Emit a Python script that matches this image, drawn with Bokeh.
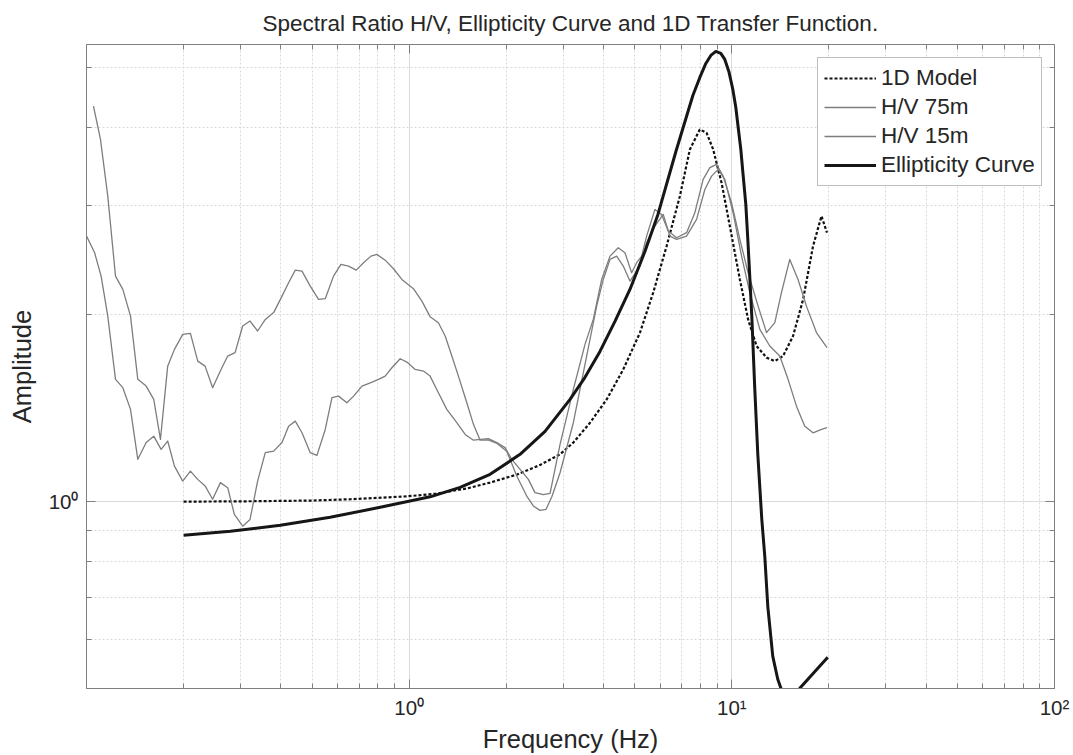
from bokeh.plotting import figure
from bokeh.models import Range1d, FixedTicker, LogAxis, Legend, LegendItem, CustomJSTickFormatter
from bokeh.embed import file_html
from bokeh.resources import INLINE

TITLE = "Spectral Ratio H/V, Ellipticity Curve and 1D Transfer Function."
FONT = "Liberation Sans"
TXT = "#262626"
AX = "#7f7f7f"

x_major = [1, 10, 100]
x_minor = [0.2, 0.3, 0.4, 0.5, 0.6, 0.7, 0.8, 0.9, 2, 3, 4, 5, 6, 7, 8, 9,
           20, 30, 40, 50, 60, 70, 80, 90]
y_major = [1]
y_minor = [0.6, 0.7, 0.8, 0.9, 2, 3, 4, 5]
x_labels = {1: "10⁰", 10: "10¹", 100: "10²"}
y_labels = {1: "10⁰"}

freq_hv75 = [0.1051, 0.1105, 0.1164, 0.1230, 0.1296, 0.1369, 0.1442, 0.1531, 0.1616, 0.1695,
             0.1785, 0.1873, 0.1987, 0.2099, 0.2212, 0.2331, 0.2460, 0.2612, 0.2739, 0.2887,
             0.3048, 0.3212, 0.3391, 0.3582, 0.3802, 0.4036, 0.4230, 0.4437, 0.4654, 0.4937,
             0.5238, 0.5494, 0.5829, 0.6144, 0.6487, 0.6853, 0.7222, 0.7613, 0.7943, 0.8427,
             0.8941, 0.9493, 1.031, 1.095, 1.161, 1.232, 1.293, 1.356, 1.421, 1.509,
             1.582, 1.659, 1.756, 1.873, 2.006, 2.155, 2.314, 2.426, 2.544, 2.656,
             2.772, 2.935, 3.227, 3.507, 3.811, 3.996, 4.192, 4.396, 4.608, 4.833,
             5.192, 5.445, 5.776, 6.129, 6.427, 6.742, 7.240, 7.775, 8.249, 8.653,
             9.071, 9.512, 10.09, 10.72, 11.37, 12.21, 13.11, 14.08, 14.94, 15.86,
             16.83, 17.85, 18.96, 19.72]
amp_hv75 = [4.335, 3.832, 3.105, 2.308, 2.197, 1.990, 1.574, 1.535, 1.461, 1.260,
            1.653, 1.759, 1.860, 1.867, 1.684, 1.653, 1.526, 1.633, 1.716, 1.738,
            1.918, 1.954, 1.883, 1.966, 2.016, 2.143, 2.252, 2.360, 2.351, 2.224,
            2.117, 2.123, 2.308, 2.411, 2.396, 2.360, 2.426, 2.486, 2.502, 2.449,
            2.372, 2.280, 2.203, 2.104, 1.986, 1.942, 1.848, 1.716, 1.593, 1.443,
            1.332, 1.256, 1.257, 1.241, 1.206, 1.100, 1.021, 0.984, 0.968, 0.972,
            1.020, 1.113, 1.340, 1.664, 2.065, 2.280, 2.456, 2.486, 2.396, 2.266,
            2.396, 2.613, 2.779, 2.902, 2.677, 2.645, 2.677, 2.849, 3.183, 3.345,
            3.429, 3.304, 2.920, 2.486, 2.171, 1.895, 1.781, 1.716, 1.574, 1.425,
            1.323, 1.291, 1.307, 1.316]

freq_hv15 = [0.1000, 0.1059, 0.1110, 0.1164, 0.1230, 0.1296, 0.1369, 0.1442, 0.1531, 0.1616,
             0.1703, 0.1785, 0.1873, 0.1987, 0.2099, 0.2212, 0.2331, 0.2460, 0.2600, 0.2739,
             0.2872, 0.3048, 0.3212, 0.3391, 0.3582, 0.3802, 0.4036, 0.4230, 0.4437, 0.4654,
             0.4937, 0.5178, 0.5494, 0.5764, 0.6040, 0.6413, 0.6726, 0.7141, 0.7576, 0.8035,
             0.8427, 0.8839, 0.9378, 0.9838, 1.044, 1.107, 1.161, 1.232, 1.308, 1.405,
             1.491, 1.582, 1.760, 1.869, 1.982, 2.080, 2.207, 2.341, 2.455, 2.605,
             2.733, 2.935, 3.227, 3.507, 3.720, 3.950, 4.192, 4.446, 4.663, 4.893,
             5.070, 5.254, 5.445, 5.776, 6.059, 6.351, 6.742, 7.240, 7.680, 8.149,
             8.550, 8.965, 9.400, 9.979, 10.59, 11.23, 12.06, 12.81, 13.59, 14.25,
             15.12, 16.04, 17.03, 18.29, 19.72]
amp_hv15 = [2.677, 2.520, 2.308, 1.990, 1.574, 1.526, 1.408, 1.170, 1.245, 1.275,
            1.214, 1.252, 1.141, 1.079, 1.120, 1.086, 1.060, 1.009, 1.073, 1.053,
            0.954, 0.913, 0.936, 1.079, 1.199, 1.206, 1.245, 1.323, 1.348, 1.291,
            1.199, 1.187, 1.307, 1.471, 1.479, 1.443, 1.479, 1.535, 1.554, 1.574,
            1.593, 1.643, 1.699, 1.678, 1.633, 1.623, 1.593, 1.498, 1.408, 1.340,
            1.283, 1.256, 1.263, 1.245, 1.222, 1.170, 1.127, 1.086, 1.034, 1.026,
            1.031, 1.237, 1.516, 1.792, 1.966, 2.280, 2.486, 2.565, 2.518, 2.337,
            2.426, 2.486, 2.677, 2.956, 2.902, 2.728, 2.661, 2.712, 2.920, 3.304,
            3.451, 3.494, 3.345, 3.030, 2.645, 2.337, 2.065, 1.872, 1.942, 2.171,
            2.456, 2.280, 2.065, 1.872, 1.770]

freq_model = [0.2, 0.3, 0.5, 0.66, 0.99, 1.21, 1.51, 1.78, 2.16, 2.54,
              2.935, 3.227, 3.635, 4.094, 4.608, 5.192, 5.706, 6.279, 6.902, 7.413,
              7.959, 8.349, 8.753, 9.293, 9.858, 10.59, 11.23, 11.93, 12.81, 13.59,
              14.41, 15.48, 16.63, 17.85, 18.96, 19.72]
amp_model = [1.0, 1.001, 1.004, 1.009, 1.02, 1.03, 1.05, 1.073, 1.106, 1.145,
             1.192, 1.245, 1.340, 1.461, 1.633, 1.872, 2.171, 2.580, 3.105, 3.693,
             3.977, 3.928, 3.693, 3.264, 2.779, 2.280, 1.966, 1.781, 1.706, 1.684,
             1.716, 1.848, 2.117, 2.580, 2.884, 2.712]

freq_ell = [0.2, 0.2792, 0.3988, 0.5691, 0.8135, 1.1615, 1.4385, 1.7813, 2.2066, 2.637,
            3.1512, 3.5067, 3.9024, 4.3427, 4.8329, 5.3781, 5.902, 6.7087, 7.5722, 7.9592,
            8.3067, 8.608, 8.9199, 9.2434, 9.511, 9.7884, 10.072, 10.289, 10.437, 10.662,
            10.815, 11.049, 11.208, 11.369, 11.532, 11.781, 12.036, 12.384, 12.652, 12.925,
            13.394, 13.88, 14.59, 15.337, 16.236, 19.831]
amp_ell = [0.8826, 0.896, 0.916, 0.9435, 0.9791, 1.018, 1.0545, 1.1064, 1.1916, 1.2979,
           1.4612, 1.5855, 1.746, 1.9514, 2.197, 2.5296, 2.9017, 3.6645, 4.5107, 4.8233,
           5.0803, 5.233, 5.3113, 5.2721, 5.1562, 4.9318, 4.6121, 4.3144, 4.0508, 3.6936,
           3.4023, 3.0113, 2.6447, 2.297, 1.9879, 1.5164, 1.1916, 0.9365, 0.8163, 0.6783,
           0.5634, 0.5174, 0.4804, 0.4716, 0.5003, 0.5613]

p = figure(width=1073, height=755, x_axis_type="log", y_axis_type="log",
           x_range=Range1d(0.1, 100), y_range=Range1d(0.5, 5.45),
           output_backend="svg", toolbar_location=None, title=TITLE,
           min_border_left=86, min_border_right=19, min_border_top=44, min_border_bottom=67)
p.background_fill_color = "white"
p.border_fill_color = "white"
p.outline_line_color = AX
p.outline_line_width = 1

p.title.align = "center"
p.title.vertical_align = "bottom"
p.title.text_font = FONT
p.title.text_font_size = "22.5px"
p.title.text_font_style = "normal"
p.title.text_color = TXT
p.title.standoff = 17

xt = FixedTicker(ticks=x_major, minor_ticks=x_minor)
yt = FixedTicker(ticks=y_major, minor_ticks=y_minor)

for ax, tk, labels in ((p.xaxis[0], xt, x_labels), (p.yaxis[0], yt, y_labels)):
    ax.ticker = tk
    ax.major_label_overrides = labels
    ax.major_label_text_font = FONT
    ax.major_label_text_font_size = "20.5px"
    ax.major_label_text_color = TXT
    ax.axis_label_text_font = FONT
    ax.axis_label_text_font_size = "25.5px"
    ax.axis_label_text_font_style = "normal"
    ax.axis_label_text_color = TXT
    ax.axis_line_color = AX
    ax.major_tick_line_color = AX
    ax.minor_tick_line_color = AX
    ax.major_tick_in = 9
    ax.major_tick_out = 0
    ax.minor_tick_in = 5
    ax.minor_tick_out = 0
    ax.major_label_standoff = 8
p.xaxis[0].axis_label = "Frequency (Hz)"
p.yaxis[0].axis_label = "Amplitude"
p.xaxis[0].major_label_standoff = 7
p.xaxis[0].axis_label_standoff = 3
p.yaxis[0].axis_label_standoff = 10

blank = CustomJSTickFormatter(code="return ''")
for tk, side in ((xt, "above"), (yt, "right")):
    extra = LogAxis(ticker=tk, formatter=blank)
    extra.axis_line_color = None
    extra.major_tick_line_color = AX
    extra.minor_tick_line_color = AX
    extra.major_tick_in = 9
    extra.major_tick_out = 0
    extra.minor_tick_in = 5
    extra.minor_tick_out = 0
    extra.major_label_standoff = 0
    extra.major_label_text_font_size = "1px"
    p.add_layout(extra, side)

p.xgrid.ticker = xt
p.ygrid.ticker = yt
for g in (p.xgrid, p.ygrid):
    g.grid_line_color = "#dadada"
    g.grid_line_width = 1
    g.minor_grid_line_color = "#d8d8d8"
    g.minor_grid_line_dash = "2 2"
    g.minor_grid_line_width = 1

r_model = p.line(freq_model, amp_model, line_color="#111111", line_width=2.2,
                 line_dash="3 2")
r75 = p.line(freq_hv75, amp_hv75, line_color="#7d7d7d", line_width=1.3, line_join="round")
r15 = p.line(freq_hv15, amp_hv15, line_color="#7d7d7d", line_width=1.3, line_join="round")
r_ell = p.line(freq_ell, amp_ell, line_color="#161616", line_width=3, line_join="round")

legend = Legend(items=[
    LegendItem(label="1D Model", renderers=[r_model]),
    LegendItem(label="H/V 75m", renderers=[r75]),
    LegendItem(label="H/V 15m", renderers=[r15]),
    LegendItem(label="Ellipticity Curve", renderers=[r_ell]),
], location=(731, 502))
legend.label_text_font = FONT
legend.label_text_font_size = "22.5px"
legend.label_text_color = TXT
legend.border_line_color = AX
legend.border_line_width = 1
legend.background_fill_color = "white"
legend.background_fill_alpha = 1
legend.glyph_width = 52
legend.glyph_height = 28
legend.label_height = 28
legend.spacing = 1
legend.padding = 6
legend.label_standoff = 5
legend.margin = 0
p.add_layout(legend)

open("out.html", "w").write(file_html(p, INLINE))
